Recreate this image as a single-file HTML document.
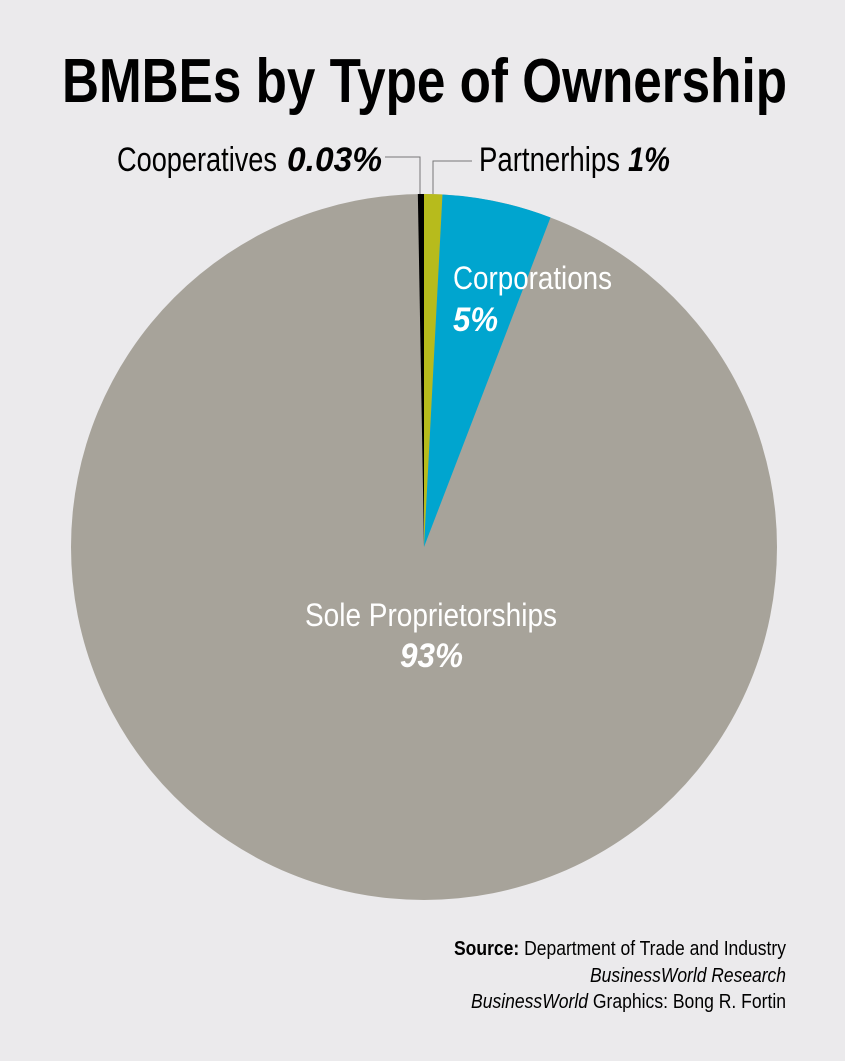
<!DOCTYPE html>
<html><head><meta charset="utf-8"><style>
html,body{margin:0;padding:0;background:#ebeaec;}
svg{display:block;}
text{font-family:"Liberation Sans Narrow","Liberation Sans",sans-serif;}
</style></head><body>
<svg width="845" height="1061" viewBox="0 0 845 1061">
<rect width="845" height="1061" fill="#ebeaec"/>
<text x="62" y="102" font-size="62" font-weight="bold" textLength="725" lengthAdjust="spacingAndGlyphs" fill="#000">BMBEs by Type of Ownership</text>
<circle cx="424" cy="547" r="353" fill="#a7a39a"/>
<path d="M424,547 L417.84,194.05 A353,353 0 0 1 424,194 Z" fill="#000"/>
<path d="M424,547 L424,194 A353,353 0 0 1 442.47,194.48 Z" fill="#b7bb1c"/>
<path d="M424,547 L442.47,194.48 A353,353 0 0 1 550.5,217.45 Z" fill="#00a5cf"/>
<polyline points="385,157 420,157 420,194" fill="none" stroke="#777" stroke-width="1"/>
<polyline points="433,194 433,161 472,161" fill="none" stroke="#777" stroke-width="1"/>
<text x="117" y="171" font-size="34" textLength="160" lengthAdjust="spacingAndGlyphs" fill="#000">Cooperatives</text>
<text x="287" y="171" font-size="34" font-weight="bold" font-style="italic" textLength="95" lengthAdjust="spacingAndGlyphs" fill="#000">0.03%</text>
<text x="479" y="171" font-size="34" textLength="141" lengthAdjust="spacingAndGlyphs" fill="#000">Partnerhips</text>
<text x="628" y="171" font-size="34" font-weight="bold" font-style="italic" textLength="42" lengthAdjust="spacingAndGlyphs" fill="#000">1%</text>
<text x="453" y="289" font-size="32" textLength="159" lengthAdjust="spacingAndGlyphs" fill="#fff">Corporations</text>
<text x="453" y="331" font-size="34" font-weight="bold" font-style="italic" textLength="45" lengthAdjust="spacingAndGlyphs" fill="#fff">5%</text>
<text x="305" y="626" font-size="32" textLength="252" lengthAdjust="spacingAndGlyphs" fill="#fff">Sole Proprietorships</text>
<text x="400" y="667" font-size="34" font-weight="bold" font-style="italic" textLength="63" lengthAdjust="spacingAndGlyphs" fill="#fff">93%</text>
<text x="454" y="955" font-size="20" textLength="332" lengthAdjust="spacingAndGlyphs" fill="#000"><tspan font-weight="bold">Source:</tspan> Department of Trade and Industry</text>
<text x="590" y="982" font-size="20" font-style="italic" textLength="196" lengthAdjust="spacingAndGlyphs" fill="#000">BusinessWorld Research</text>
<text x="471" y="1008" font-size="20" textLength="315" lengthAdjust="spacingAndGlyphs" fill="#000"><tspan font-style="italic">BusinessWorld</tspan> Graphics: Bong R. Fortin</text>
</svg>
</body></html>
